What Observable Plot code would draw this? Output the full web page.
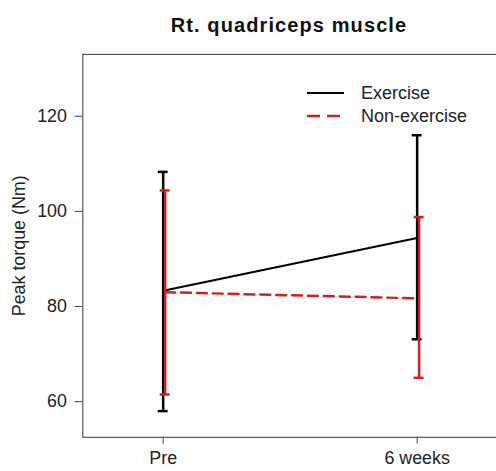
<!DOCTYPE html>
<html>
<head>
<meta charset="utf-8">
<script src="https://cdn.jsdelivr.net/npm/d3@7"></script>
<script src="https://cdn.jsdelivr.net/npm/@observablehq/plot@0.6"></script>
<style>
  html, body { margin: 0; padding: 0; background: #fff; overflow: hidden; }
  #wrap { position: relative; width: 496px; height: 471px; overflow: hidden; font-family: "Liberation Sans", Arial, sans-serif; }
  #title { position: absolute; left: 83px; top: 13px; width: 412px; text-align: center; font-size: 20px; letter-spacing: 1.1px; font-weight: bold; color: #111; line-height: 24px; }
  #chart { position: absolute; left: 0; top: 40px; }
  #legend { position: absolute; left: 300px; top: 80px; }
</style>
</head>
<body>
<div id="wrap">
  <div id="title">Rt. quadriceps muscle</div>
  <div id="chart"></div>
  <div id="legend"></div>
</div>
<script>
// ---- data ----
const timepoints = ["Pre", "6 weeks"];
const groups = ["Exercise", "Non-exercise"];
const exerciseMean = [83.3, 94.4];
const exerciseLow  = [58.0, 73.1];
const exerciseHigh = [108.3, 116.0];
const nonExMean = [83.0, 81.7];
const nonExLow  = [61.5, 65.0];
const nonExHigh = [104.4, 98.8];
const yTicks = [60, 80, 100, 120];
const yDomain = [52.5, 133];

const black = "#000000";
const red = "#cc2222";

const exRows = timepoints.map((t, i) => ({t, mean: exerciseMean[i], lo: exerciseLow[i], hi: exerciseHigh[i]}));
const neRows = timepoints.map((t, i) => ({t, mean: nonExMean[i], lo: nonExLow[i], hi: nonExHigh[i]}));

const chart = Plot.plot({
  width: 500,
  height: 431,
  marginTop: 14,
  marginBottom: 31,
  marginLeft: 83,
  marginRight: 0,
  style: {fontFamily: "'Liberation Sans', Arial, sans-serif", fontSize: "18px", color: "#222", background: "#fff"},
  x: {type: "band", domain: timepoints, range: [158, 425], paddingInner: 0.961, paddingOuter: 0},
  y: {domain: yDomain, ticks: yTicks},
  marks: [
    Plot.frame({stroke: "#333", strokeWidth: 1}),
    Plot.axisY({ticks: yTicks, tickSize: 8, tickPadding: 8, fontSize: 18, stroke: "#444", fill: "#222",
      label: "Peak torque (Nm)", labelAnchor: "center", labelOffset: 71, labelArrow: "none"}),
    Plot.axisX({tickSize: 7, tickPadding: 7, fontSize: 18, stroke: "#444", fill: "#222", label: null}),
    Plot.line(exRows, {x: "t", y: "mean", stroke: black, strokeWidth: 2}),
    Plot.line(neRows, {x: "t", y: "mean", stroke: red, strokeWidth: 2.5, strokeDasharray: "10,6", dx: 2}),
    Plot.ruleX(exRows, {x: "t", y1: "lo", y2: "hi", stroke: black, strokeWidth: 2.5}),
    Plot.tickY(exRows, {x: "t", y: "lo", stroke: black, strokeWidth: 2.5}),
    Plot.tickY(exRows, {x: "t", y: "hi", stroke: black, strokeWidth: 2.5}),
    Plot.ruleX(neRows, {x: "t", y1: "lo", y2: "hi", stroke: red, strokeWidth: 2.5, dx: 2}),
    Plot.tickY(neRows, {x: "t", y: "lo", stroke: red, strokeWidth: 2.5, dx: 2}),
    Plot.tickY(neRows, {x: "t", y: "hi", stroke: red, strokeWidth: 2.5, dx: 2})
  ]
});
document.getElementById("chart").appendChild(chart);

// ---- legend (inside the plot area, top right) ----
const legendStyles = [
  {color: black, dash: null, width: 2},
  {color: red, dash: "13,7", width: 2.5}
];
const svgNS = "http://www.w3.org/2000/svg";
const lg = document.createElementNS(svgNS, "svg");
lg.setAttribute("width", 196);
lg.setAttribute("height", 50);
groups.forEach((g, i) => {
  const yy = 13 + i * 23;
  const ln = document.createElementNS(svgNS, "line");
  ln.setAttribute("x1", 7); ln.setAttribute("x2", 44);
  ln.setAttribute("y1", yy); ln.setAttribute("y2", yy);
  ln.setAttribute("stroke", legendStyles[i].color);
  ln.setAttribute("stroke-width", legendStyles[i].width);
  if (legendStyles[i].dash) ln.setAttribute("stroke-dasharray", legendStyles[i].dash);
  lg.appendChild(ln);
  const tx = document.createElementNS(svgNS, "text");
  tx.setAttribute("x", 61); tx.setAttribute("y", yy);
  tx.setAttribute("dy", "0.35em");
  tx.setAttribute("font-size", 18);
  tx.setAttribute("font-family", "'Liberation Sans', Arial, sans-serif");
  tx.setAttribute("fill", "#222");
  tx.textContent = g;
  lg.appendChild(tx);
});
document.getElementById("legend").appendChild(lg);
</script>
</body>
</html>
